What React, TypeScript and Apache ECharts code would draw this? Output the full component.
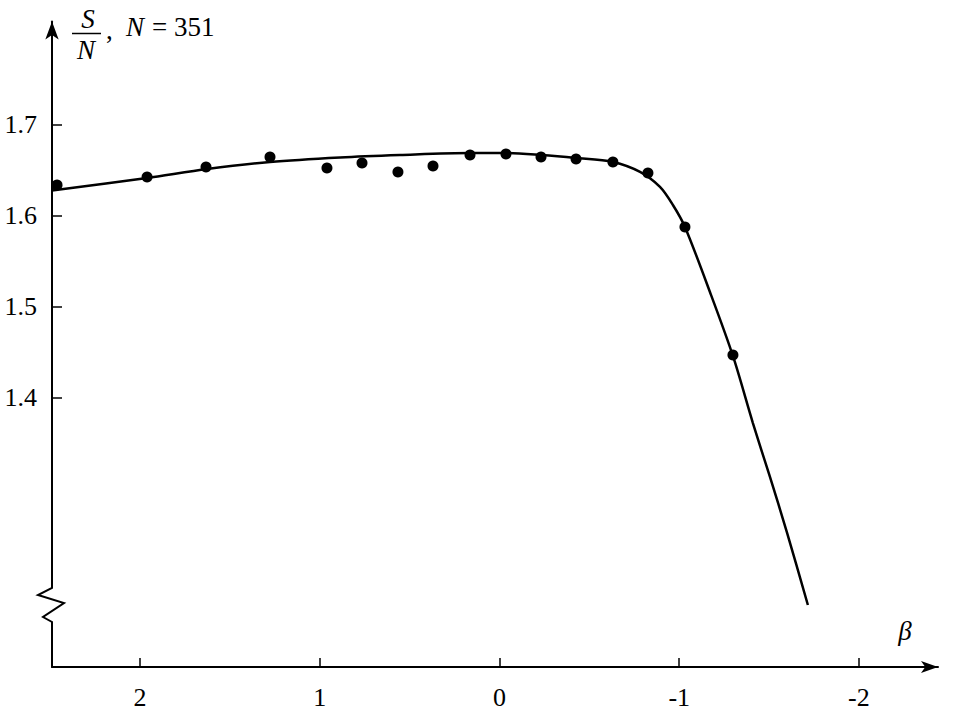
import React, { useEffect, useRef } from "react";
import * as echarts from "echarts";

const xTicks = [-2, -1, 0, 1, 2];
const yTicks = [1.4, 1.5, 1.6, 1.7];

// fitted curve (beta, S/N)
const curveBeta = [2.49, 1.961, 1.627, 1.277, 0.887, 0.554, 0.164, -0.031, -0.231, -0.426, -0.631, -0.782, -0.893, -0.965, -1.032, -1.171, -1.299, -1.41, -1.505, -1.599, -1.716];
const curveSN = [1.628, 1.6418, 1.6516, 1.6593, 1.6643, 1.667, 1.6692, 1.6692, 1.667, 1.6637, 1.6593, 1.6484, 1.6319, 1.6121, 1.5879, 1.5165, 1.4462, 1.3725, 1.3132, 1.2527, 1.1725];

// measured points (beta, S/N)
const pointBeta = [2.462, 1.961, 1.633, 1.277, 0.96, 0.765, 0.565, 0.37, 0.164, -0.036, -0.231, -0.426, -0.631, -0.826, -1.032, -1.299];
const pointSN = [1.6341, 1.6429, 1.6538, 1.6648, 1.6527, 1.6582, 1.6484, 1.6549, 1.667, 1.6681, 1.6648, 1.6626, 1.6593, 1.6473, 1.5879, 1.4473];

const FONT = "Liberation Serif";

export default function App() {
  const ref = useRef<HTMLDivElement>(null);
  useEffect(() => {
    if (!ref.current) return;
    const chart = echarts.init(ref.current, undefined, { renderer: "svg" });
    const txt = (text: string, x: number, y: number, size: number, italic: boolean, align = "center", valign = "middle") => ({
      type: "text",
      z: 101,
      x,
      y,
      style: {
        text,
        fontFamily: FONT,
        fontSize: size,
        fontStyle: italic ? "italic" : "normal",
        fill: "#000",
        textAlign: align,
        textVerticalAlign: valign,
      },
    });
    chart.setOption({
      animation: false,
      backgroundColor: "#ffffff",
      grid: { left: 52, right: 18, top: 21.5, bottom: 49 },
      xAxis: {
        type: "value",
        min: -2.44,
        max: 2.49,
        inverse: true,
        splitLine: { show: false },
        axisLine: {
          show: true,
          onZero: false,
          symbol: ["none", "arrow"],
          symbolSize: [9, 17],
          lineStyle: { color: "#000", width: 2 },
        },
        axisTick: { show: true, inside: true, length: 9, customValues: xTicks, lineStyle: { color: "#000", width: 1.5 } },
        axisLabel: {
          customValues: xTicks,
          margin: 17,
          color: "#000",
          fontFamily: FONT,
          fontSize: 26,
          formatter: (v: number) => String(v),
        },
      },
      yAxis: {
        type: "value",
        min: 1.1044,
        max: 1.8137,
        splitLine: { show: false },
        axisLine: {
          show: true,
          onZero: false,
          symbol: ["none", "arrow"],
          symbolSize: [10, 18],
          lineStyle: { color: "#000", width: 2 },
        },
        axisTick: { show: true, inside: true, length: 10, customValues: yTicks, lineStyle: { color: "#000", width: 1.5 } },
        axisLabel: {
          customValues: yTicks,
          margin: 15,
          color: "#000",
          fontFamily: FONT,
          fontSize: 26,
          formatter: (v: number) => v.toFixed(1),
        },
      },
      series: [
        {
          type: "line",
          data: curveBeta.map((b, i) => [b, curveSN[i]]),
          smooth: 0.3,
          showSymbol: false,
          symbol: "none",
          lineStyle: { color: "#000", width: 2.5 },
          z: 3,
        },
        {
          type: "scatter",
          data: pointBeta.map((b, i) => [b, pointSN[i]]),
          symbol: "circle",
          symbolSize: 11,
          itemStyle: { color: "#000", opacity: 1 },
          z: 4,
        },
      ],
      graphic: [
        { type: "rect", z: 100, shape: { x: 47, y: 587, width: 11, height: 35 }, style: { fill: "#fff" } },
        {
          type: "polyline",
          z: 101,
          shape: { points: [[52, 586], [52, 588], [38, 595], [64, 603], [43, 617], [52, 622], [52, 623]] },
          style: { stroke: "#000", lineWidth: 2, fill: "none" },
        },
        txt("S", 88, 32, 27, true, "center", "bottom"),
        { type: "line", z: 101, shape: { x1: 72, y1: 33.5, x2: 101, y2: 33.5 }, style: { stroke: "#000", lineWidth: 1.5 } },
        txt("N", 86, 36, 27, true, "center", "top"),
        txt(",", 106, 30, 27, false, "left", "middle"),
        txt("N", 126, 27, 27, true, "left", "middle"),
        txt("= 351", 152, 27, 27, false, "left", "middle"),
        txt("β", 905, 631, 27, true),
      ],
    });
    return () => chart.dispose();
  }, []);
  return <div ref={ref} style={{ position: "absolute", left: 0, top: 0, width: 956, height: 716 }} />;
}
